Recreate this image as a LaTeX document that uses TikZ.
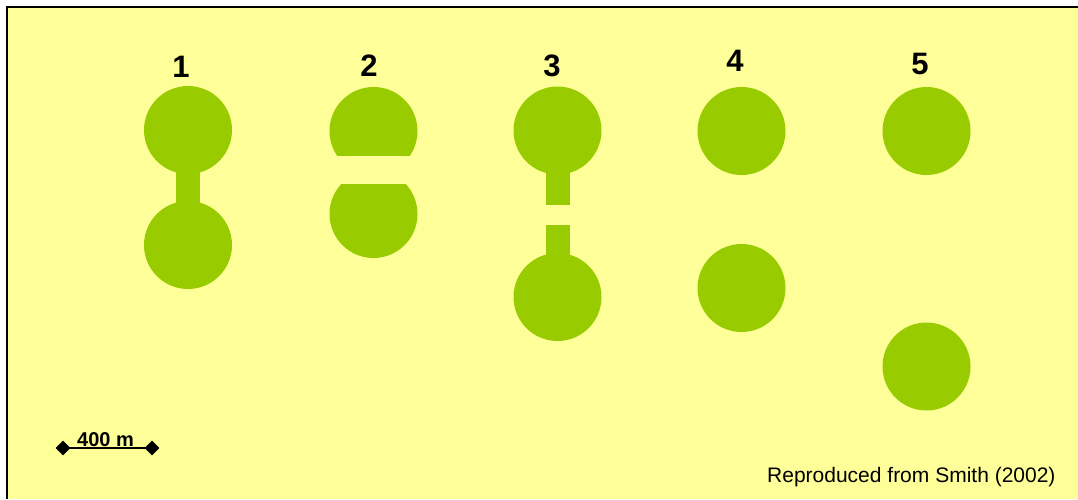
\documentclass[tikz,border=0pt]{standalone}
\usepackage{fontspec}
\setmainfont{Liberation Sans}
\usetikzlibrary{shapes.geometric}
\definecolor{pondyellow}{HTML}{FFFF99}
\definecolor{pondgreen}{HTML}{99CC00}
\begin{document}
\begin{tikzpicture}[x=1pt,y=-1pt,
  pond/.style={circle,fill=pondgreen,minimum size=88pt,inner sep=0pt},
  link/.style={draw=pondgreen,line width=24pt},
  num/.style={font=\fontsize{31}{36}\selectfont\bfseries,inner sep=0pt},
  tip/.style={diamond,fill=black,minimum size=15pt,inner sep=0pt}]
\useasboundingbox (0,0) rectangle (1078,499);
\fill[pondyellow] (7,7) rectangle (1078,499);
\draw[line width=2pt] (7,499) -- (7,7) -- (1078,7);

\node[pond] (p1a) at (188,130) {};
\node[pond] (p1b) at (188,245) {};
\draw[link] (p1a.center) -- (p1b.center);

\begin{scope}
\clip (320,80) rectangle (430,155);
\node[pond] (p2a) at (373.5,131) {};
\end{scope}
\begin{scope}
\clip (320,184) rectangle (430,270);
\node[pond] (p2b) at (373.5,214) {};
\end{scope}

\node[pond] (p3a) at (557.5,130.5) {};
\node[pond] (p3b) at (557.5,297) {};
\coordinate (g3a) at (557.5,205);
\coordinate (g3b) at (557.5,225);
\draw[link] (p3a.center) -- (g3a);
\draw[link] (g3b) -- (p3b.center);

\node[pond] (p4a) at (741.5,131) {};
\node[pond] (p4b) at (741.5,288) {};

\node[pond] (p5a) at (926.5,131) {};
\node[pond] (p5b) at (926.5,366.5) {};

\node[num] (n1) at (181,67) {1};
\node[num] (n2) at (369,66) {2};
\node[num] (n3) at (552,66) {3};
\node[num] (n4) at (735,60.5) {4};
\node[num] (n5) at (920,64) {5};

\node[tip] (s1) at (63,448) {};
\node[tip] (s2) at (152,448) {};
\draw[line width=1.5pt] (s1.center) -- (s2.center);
\node[font=\fontsize{20}{24}\selectfont\bfseries,inner sep=0pt,anchor=base] (len) at (105.5,446) {400 m};

\node[font=\fontsize{21}{25}\selectfont,inner sep=0pt,anchor=base west] (src) at (767,482) {Reproduced from Smith (2002)};
\end{tikzpicture}
\end{document}
